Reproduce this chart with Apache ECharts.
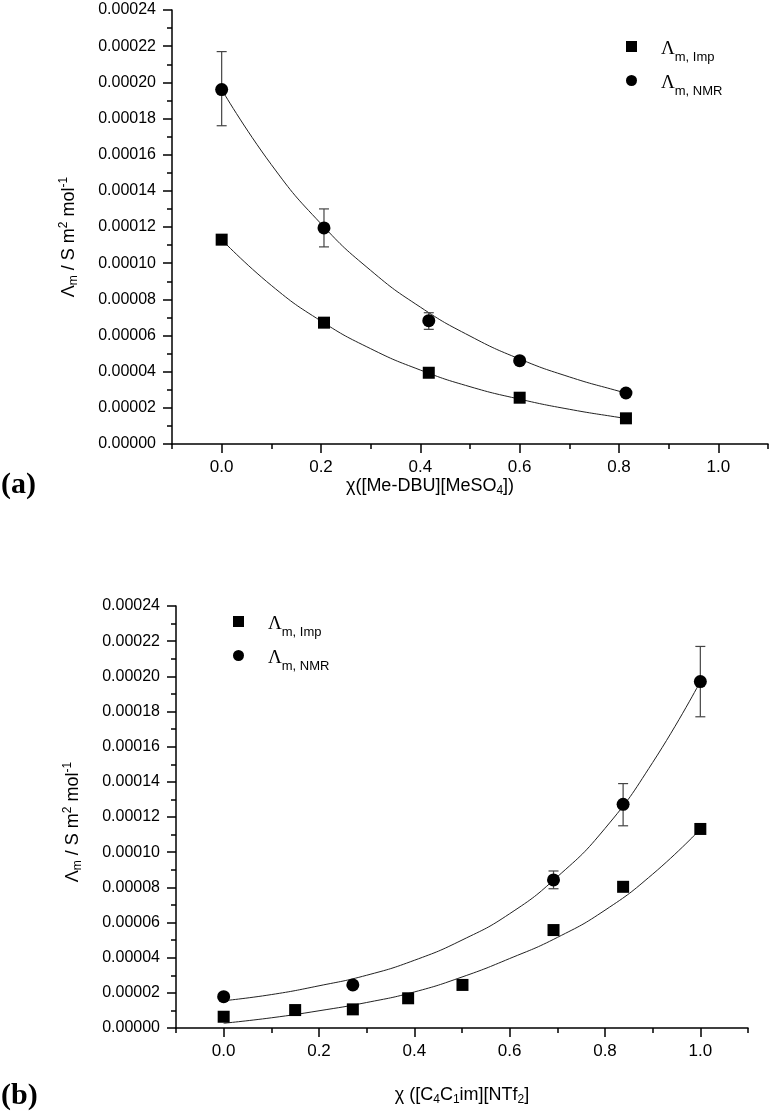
<!DOCTYPE html>
<html>
<head>
<meta charset="UTF-8">
<title>molar conductivity</title>
<script type="text/javascript" src="https://cdn.jsdelivr.net/npm/echarts@6/dist/echarts.min.js"></script>
<style>
  html, body { margin: 0; padding: 0; background: #fff; }
  #container { width: 772px; height: 1116px; }
</style>
</head>
<body>
<div id="container"></div>
<script type="text/javascript">
// ---- panel (a): chi([Me-DBU][MeSO4]) ----
var xA = [0, 0.206, 0.417, 0.600, 0.814];
var impA = [0.000113, 0.0000671, 0.0000394, 0.0000256, 0.0000142];
var nmrA = [0.000196, 0.0001195, 0.0000682, 0.0000461, 0.0000282];
var nmrA_lo = [0.000176, 0.000109, 0.0000634, 0.0000448, null];
var nmrA_hi = [0.000217, 0.000130, 0.0000726, 0.0000474, null];
// fitted curves
var fitXA = [0, 0.1, 0.2, 0.3, 0.4, 0.5, 0.6, 0.7, 0.8, 0.814];
var fitImpA = [0.000113, 0.0000877, 0.0000680, 0.0000527, 0.0000409, 0.0000317, 0.0000248, 0.0000192, 0.0000147, 0.0000142];
var fitNmrA = [0.000196, 0.0001545, 0.0001218, 0.0000960, 0.0000757, 0.0000597, 0.0000470, 0.0000371, 0.0000292, 0.0000283];

// ---- panel (b): chi([C4C1im][NTf2]) ----
var xB_imp = [0, 0.150, 0.271, 0.387, 0.501, 0.692, 0.838, 1.0];
var impB = [0.0000064, 0.0000102, 0.0000106, 0.0000169, 0.0000245, 0.0000557, 0.0000803, 0.0001132];
var xB_nmr = [0, 0.271, 0.692, 0.838, 1.0];
var nmrB = [0.0000178, 0.0000245, 0.0000842, 0.0001272, 0.000197];
var nmrB_lo = [null, null, 0.0000792, 0.000115, 0.000177];
var nmrB_hi = [null, null, 0.0000893, 0.000139, 0.000217];
var fitXB = [0, 0.1, 0.2, 0.3, 0.4, 0.5, 0.6, 0.7, 0.8, 0.9, 1.0];
var fitImpB = [0.0000027, 0.0000058, 0.0000098, 0.0000145, 0.0000205, 0.0000290, 0.0000395, 0.0000515, 0.0000670, 0.0000875, 0.000113];
var fitNmrB = [0.0000155, 0.0000190, 0.0000240, 0.0000300, 0.0000385, 0.0000500, 0.0000650, 0.0000860, 0.0001135, 0.000151, 0.000197];

// axis ticks
var xMajor = [0, 0.2, 0.4, 0.6, 0.8, 1.0];
var seriesNames = ['Λm, Imp', 'Λm, NMR'];

var sans = "'Liberation Sans', Arial, sans-serif";

function pairs(xs, ys) {
    var out = [];
    for (var i = 0; i < xs.length; i++) out.push([xs[i], ys[i]]);
    return out;
}
function errRows(xs, lo, hi) {
    var out = [];
    for (var i = 0; i < xs.length; i++) {
        if (lo[i] != null) out.push([xs[i], lo[i], hi[i]]);
    }
    return out;
}

var titleRich = {
    a: { fontFamily: sans, fontSize: 18, color: '#000' },
    sb: { fontFamily: sans, fontSize: 12, color: '#000', padding: [10, 0, 0, 0] },
    sp: { fontFamily: sans, fontSize: 12, color: '#000', padding: [0, 0, 10, 0] }
};
function rich(extra) {
    var r = {};
    for (var k in titleRich) r[k] = titleRich[k];
    for (var k2 in extra) r[k2] = extra[k2];
    return r;
}

function yAxis(grid, shift) {
    return {
        gridIndex: grid, type: 'value', min: 0, max: 0.00024, interval: 0.00002,
        axisLine: { show: true, onZero: false, lineStyle: { color: '#000', width: 1.5 } },
        axisTick: { show: true, length: 9, lineStyle: { color: '#000', width: 1.5 } },
        minorTick: { show: true, splitNumber: 2, length: 5, lineStyle: { color: '#000', width: 1.5 } },
        axisLabel: { fontFamily: sans, fontSize: 16, color: '#000', margin: 16,
            formatter: function (v) { return v.toFixed(5); } },
        splitLine: { show: false },
        name: '{a|Λ}{sb|m}{a| / S m}{sp|2}{a| mol}{end|-1}',
        nameLocation: 'middle', nameRotate: 90, nameGap: 92,
        nameTextStyle: { rich: rich({ end: { fontFamily: sans, fontSize: 12, color: '#000', padding: [0, shift, 10, 0] } }) }
    };
}
function xAxisMain(grid, name, gap, shift) {
    return {
        gridIndex: grid, type: 'value', min: -0.1, max: 1.1, interval: 0.1, position: 'bottom',
        axisLine: { show: true, onZero: false, lineStyle: { color: '#000', width: 1.5 } },
        axisTick: { show: true, length: 9, customValues: xMajor, lineStyle: { color: '#000', width: 1.5 } },
        axisLabel: { customValues: xMajor, fontFamily: sans, fontSize: 17, color: '#000', margin: 15,
            formatter: function (v) { return v.toFixed(1); } },
        splitLine: { show: false },
        name: name, nameLocation: 'middle', nameGap: gap,
        nameTextStyle: { rich: rich({ end: { fontFamily: sans, fontSize: 18, color: '#000', padding: [0, shift, 0, 0] } }) }
    };
}
function xAxisMinor(grid) {
    return {
        gridIndex: grid, type: 'value', min: -0.1, max: 1.1, interval: 0.1, position: 'bottom',
        axisLine: { show: false, onZero: false },
        axisTick: { show: true, length: 5, lineStyle: { color: '#000', width: 1.5 } },
        axisLabel: { show: false },
        splitLine: { show: false }
    };
}

function errorSeries(xi, yi, rows) {
    return {
        type: 'custom', xAxisIndex: xi, yAxisIndex: yi, data: rows, z: 3,
        encode: { x: 0, y: [1, 2] },
        renderItem: function (params, api) {
            var x = api.value(0);
            var top = api.coord([x, api.value(2)]);
            var bot = api.coord([x, api.value(1)]);
            var w = 5;
            var st = { stroke: '#444', lineWidth: 1.2 };
            return {
                type: 'group', children: [
                    { type: 'line', shape: { x1: top[0], y1: top[1], x2: bot[0], y2: bot[1] }, style: st },
                    { type: 'line', shape: { x1: top[0] - w, y1: top[1], x2: top[0] + w, y2: top[1] }, style: st },
                    { type: 'line', shape: { x1: bot[0] - w, y1: bot[1], x2: bot[0] + w, y2: bot[1] }, style: st }
                ]
            };
        }
    };
}
function fitSeries(xi, yi, xs, ys) {
    return {
        type: 'line', xAxisIndex: xi, yAxisIndex: yi, data: pairs(xs, ys), smooth: true,
        showSymbol: false, silent: true, z: 2,
        lineStyle: { color: '#222', width: 1 }
    };
}
function pointSeries(name, xi, yi, xs, ys, symbol, size) {
    return {
        type: 'scatter', name: name, xAxisIndex: xi, yAxisIndex: yi, data: pairs(xs, ys),
        symbol: symbol, symbolSize: size, z: 5,
        itemStyle: { color: '#000', opacity: 1 }
    };
}

function legend(left, top) {
    return {
        left: left, top: top, orient: 'vertical', padding: 0, itemGap: 10,
        itemWidth: 11, itemHeight: 11, selectedMode: false,
        data: [{ name: seriesNames[0], icon: 'rect' }, { name: seriesNames[1], icon: 'circle' }],
        formatter: function (n) { return '{L|Λ}{s|' + n.slice(1) + '}'; },
        textStyle: {
            rich: {
                L: { fontFamily: "'Liberation Serif', serif", fontSize: 19, color: '#000', padding: [6, 0, 0, 19] },
                s: { fontFamily: sans, fontSize: 13, color: '#000', padding: [22, 0, 0, 0] }
            }
        },
        itemStyle: { color: '#000' }
    };
}

var chart = echarts.init(document.getElementById('container'), null, { renderer: 'canvas' });
var option = {
    backgroundColor: '#fff',
    animation: false,
    grid: [
        { left: 172, right: 4, top: 10, bottom: 672 },
        { left: 176, right: 24, top: 606, bottom: 88 }
    ],
    xAxis: [
        xAxisMain(0, '{a|χ([Me-DBU][MeSO}{sb|4}{end|])}', 29, 80),
        xAxisMinor(0),
        xAxisMain(1, '{a|χ ([C}{sb|4}{a|C}{sb|1}{a|im][NTf}{sb|2}{end|]}', 56, 0),
        xAxisMinor(1)
    ],
    yAxis: [yAxis(0, 20), yAxis(1, 10)],
    legend: [legend(626, 40), legend(233, 615)],
    graphic: [
        { type: 'text', left: 1, top: 470, style: { text: '(a)', font: "bold 30px 'Liberation Serif'", fill: '#000' } },
        { type: 'text', left: 1, top: 1081, style: { text: '(b)', font: "bold 30px 'Liberation Serif'", fill: '#000' } }
    ],
    series: [
        fitSeries(0, 0, fitXA, fitImpA),
        fitSeries(0, 0, fitXA, fitNmrA),
        errorSeries(0, 0, errRows(xA, nmrA_lo, nmrA_hi)),
        pointSeries(seriesNames[0], 0, 0, xA, impA, 'rect', 12),
        pointSeries(seriesNames[1], 0, 0, xA, nmrA, 'circle', 13),

        fitSeries(2, 1, fitXB, fitImpB),
        fitSeries(2, 1, fitXB, fitNmrB),
        errorSeries(2, 1, errRows(xB_nmr, nmrB_lo, nmrB_hi)),
        pointSeries(seriesNames[0], 2, 1, xB_imp, impB, 'rect', 12),
        pointSeries(seriesNames[1], 2, 1, xB_nmr, nmrB, 'circle', 13)
    ]
};
chart.setOption(option);
</script>
</body>
</html>
